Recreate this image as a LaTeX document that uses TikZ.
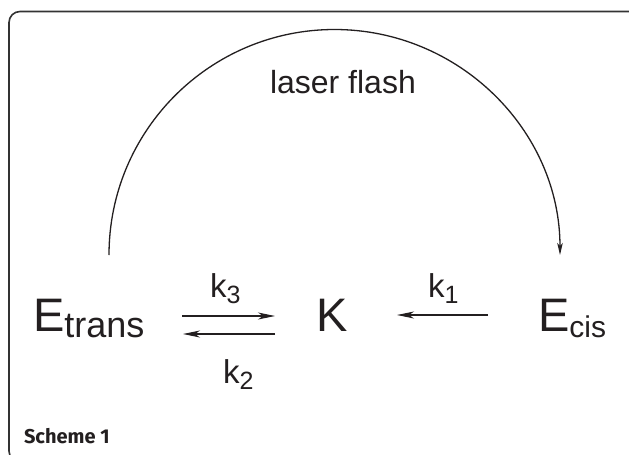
\documentclass[tikz,border=0pt]{standalone}
\usepackage{fontspec}
\setmainfont{Liberation Sans}
\newfontfamily\captionfont{Fira Sans}
\usetikzlibrary{arrows.meta}
\definecolor{ink}{HTML}{231F20}
\definecolor{framec}{HTML}{333333}
\tikzset{
  lbl/.style={anchor=base west, inner sep=0pt, outer sep=0pt, text=ink},
  big/.style={lbl, font=\fontsize{47}{47}\selectfont},
  rate/.style={lbl, font=\fontsize{33}{33}\selectfont},
  rxn/.style={draw=ink, line width=1.2pt, -{Stealth[length=17pt,width=7pt,inset=5pt]}},
  flash/.style={draw=ink, line width=1.3pt, -{Stealth[length=12pt,width=5.5pt,inset=3pt]}},
}
\newcommand{\sbt}[2]{\raisebox{-6.5pt}{\fontsize{#1}{#1}\selectfont #2}}
\newcommand{\sbk}[1]{\raisebox{-6pt}{\fontsize{25}{25}\selectfont #1}}
\begin{document}
\begin{tikzpicture}[x=1pt,y=-1pt]
\useasboundingbox (0,0) rectangle (629,455);
\clip (0,0) rectangle (629,455);
\fill[white] (0,0) rectangle (629,455);
\draw[framec, line width=1.6pt, rounded corners=11pt] (9,11.5) rectangle (640,462);

\node[big] (Et) at (33,331) {E\sbt{36}{trans}};
\node[big] (K) at (316.5,331) {K};
\node[big] (Ec) at (538,331) {E\sbt{30}{cis}};

\node[rate] (k3) at (210,297) {k\sbk{3}};
\node[rate] (k2) at (223,383) {k\sbk{2}};
\node[rate] (k1) at (428,297) {k\sbk{1}};

\node[lbl, font=\fontsize{32}{32}\selectfont] (lf) at (270,93) {laser flash};
\node[lbl, font=\captionfont\bfseries\fontsize{20}{20}\selectfont] (cap) at (24,443) {Scheme 1};

\coordinate (a3s) at (182,316);
\coordinate (a3e) at (275,316);
\coordinate (a2s) at (275,334);
\coordinate (a2e) at (183,334);
\coordinate (a1s) at (488,315);
\coordinate (a1e) at (397,315);
\draw[rxn] (a3s) -- (a3e);
\draw[rxn] (a2s) -- (a2e);
\draw[rxn] (a1s) -- (a1e);

\coordinate (fs) at (109,255);
\draw[flash] (fs) arc[start angle=180, end angle=360, radius=225.5];
\end{tikzpicture}
\end{document}
